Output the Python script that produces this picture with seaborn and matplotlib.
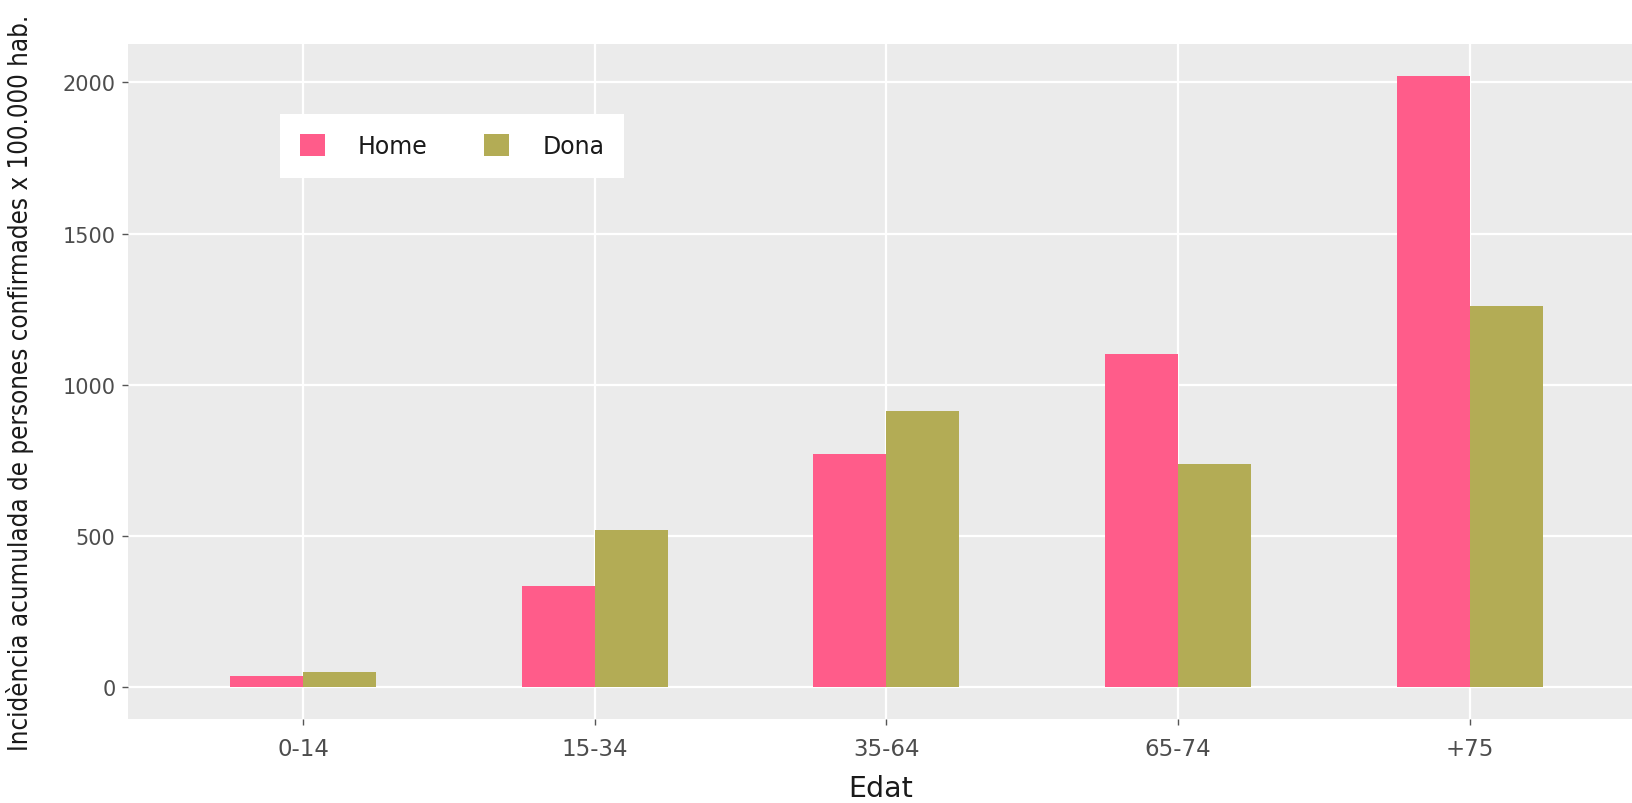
import matplotlib
matplotlib.use("Agg")
import matplotlib.pyplot as plt
import seaborn as sns
import pandas as pd

categories = ["0-14", "15-34", "35-64", "65-74", "+75"]
home = [35, 335, 771, 1101, 2022]
dona = [48, 520, 912, 736, 1260]
series = ["Home", "Dona"]
colors = ["#FF5C8A", "#B3AC55"]
yticks = [0, 500, 1000, 1500, 2000]

df = pd.DataFrame({
    "Edat": categories * 2,
    "value": home + dona,
    "sexe": ["Home"] * len(categories) + ["Dona"] * len(categories),
})

sns.set_theme(style="darkgrid")
plt.rcParams["font.family"] = ["DejaVu Sans"]

fig = plt.figure(figsize=(16.33, 8.04), dpi=100)
ax = fig.add_axes([128 / 1633, 1 - 720 / 804, (1633 - 128) / 1633, (720 - 45) / 804])
ax.set_facecolor("#EBEBEB")

sns.barplot(data=df, x="Edat", y="value", hue="sexe", order=categories,
            hue_order=series, palette=colors, width=0.5, saturation=1,
            linewidth=0, ax=ax)

ax.set_xlim(-0.6, 4.56)
ax.set_ylim(-106, 2127)
ax.set_yticks(yticks)
ax.set_yticklabels([str(v) for v in yticks])
ax.grid(True, color="white", linewidth=1.6)
ax.set_axisbelow(True)
for s in ax.spines.values():
    s.set_visible(False)

ax.tick_params(axis="both", which="both", length=4, width=1, color="#555555",
               labelcolor="#4D4D4D", direction="out")
ax.tick_params(axis="y", labelsize=15, pad=5)
ax.tick_params(axis="x", labelsize=16.5, pad=9)
ax.xaxis.set_tick_params(bottom=True)
ax.yaxis.set_tick_params(left=True)

ax.set_xlabel("Edat", fontsize=20.5, color="#1A1A1A", labelpad=10)
ax.set_ylabel("Incidència acumulada de persones confirmades x 100.000 hab.",
              fontsize=18.5, color="#1A1A1A", fontstretch="condensed")
ax.yaxis.set_label_coords((34 - 128) / 1505, 0.5)

leg = ax.legend(loc="upper left", bbox_to_anchor=((280 - 128) / 1505, 1 - (115 - 45) / 675),
                ncol=2, frameon=True, fancybox=False, fontsize=17,
                handlelength=1.05, handleheight=1.05, columnspacing=2.4,
                handletextpad=1.4, borderpad=0.85, borderaxespad=0)
leg.get_frame().set_facecolor("white")
leg.get_frame().set_edgecolor("white")
leg.get_frame().set_linewidth(0)
leg.get_frame().set_alpha(1)
for t in leg.get_texts():
    t.set_color("#1A1A1A")

fig.savefig("out.png", dpi=100, facecolor="white")
